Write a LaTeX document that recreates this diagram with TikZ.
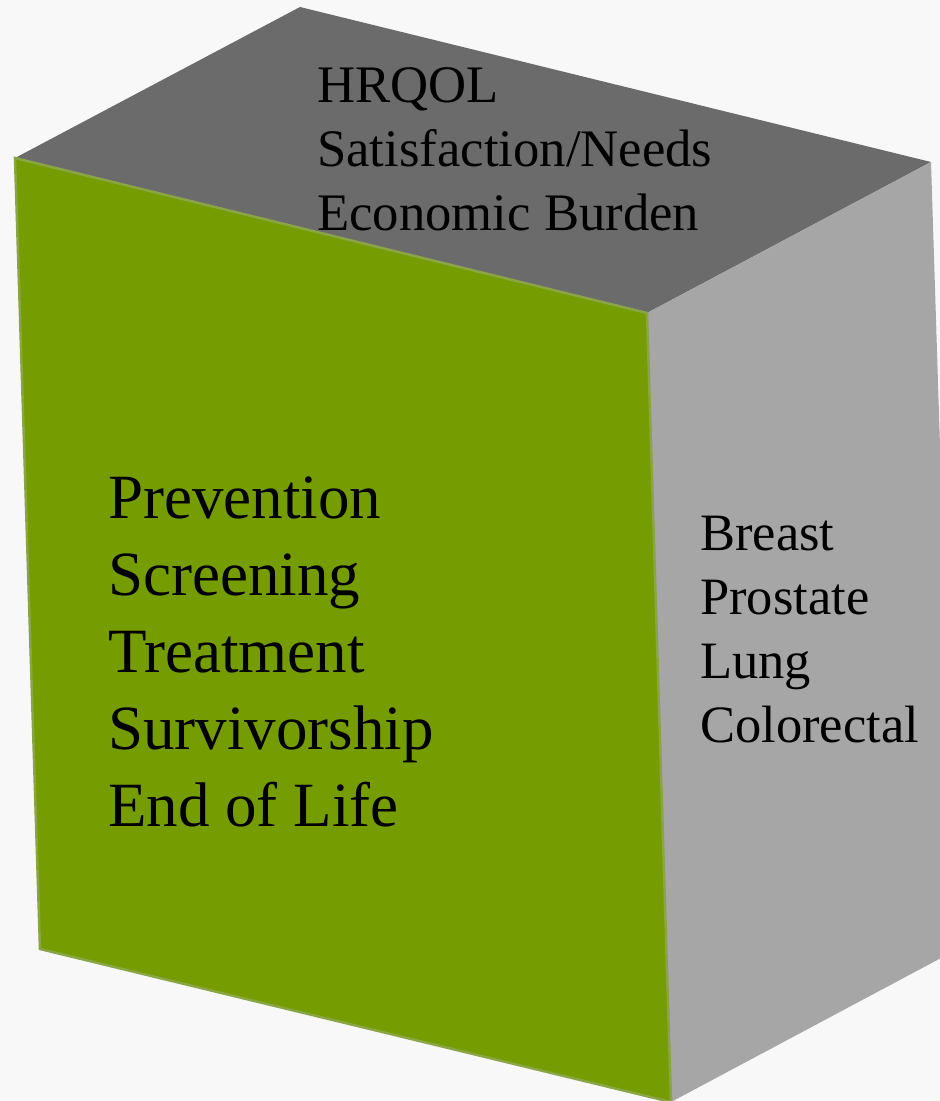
\documentclass[tikz,border=0pt]{standalone}
\usepackage{fontspec}
\setmainfont{Liberation Serif}
\begin{document}
\begin{tikzpicture}[x=1pt,y=-1pt,
  face/.style={line join=miter},
  label/.style={inner sep=0pt, anchor=base west, align=left, text=black}]
\definecolor{bg}{HTML}{F8F8F8}
\definecolor{frontgreen}{HTML}{759C00}
\definecolor{edgegreen}{HTML}{8AA545}
\definecolor{topgray}{HTML}{6B6B6B}
\definecolor{sidegray}{HTML}{A6A6A6}
\useasboundingbox (0,0) rectangle (940,1101);
\fill[bg] (0,0) rectangle (940,1101);
\clip (0,0) rectangle (940,1101);
% cube corners
\coordinate (ftl) at (15,158);
\coordinate (ftr) at (647,313);
\coordinate (fbr) at (671,1102);
\coordinate (fbl) at (40,949);
\coordinate (btl) at (300,7);
\coordinate (btr) at (931,162);
\coordinate (bbr) at (956,950);
% faces
\fill[topgray] (ftl) -- (btl) -- (btr) -- (ftr) -- cycle;
\fill[sidegray] (ftr) -- (btr) -- (bbr) -- (fbr) -- cycle;
\filldraw[face, fill=frontgreen, draw=edgegreen, line width=2.5pt] (ftl) -- (ftr) -- (fbr) -- (fbl) -- cycle;
% labels (anchored at the baseline of their last line)
\node[label, font=\fontsize{52.7}{64}\selectfont] (outcomes) at (317,230)
  {HRQOL\\Satisfaction/Needs\\Economic Burden};
\node[label, font=\fontsize{63}{77}\selectfont] (continuum) at (108,826)
  {Prevention\\Screening\\Treatment\\Survivorship\\End of Life};
\node[label, font=\fontsize{52.5}{64}\selectfont] (cancers) at (700,742)
  {Breast\\Prostate\\Lung\\Colorectal};
\end{tikzpicture}
\end{document}
